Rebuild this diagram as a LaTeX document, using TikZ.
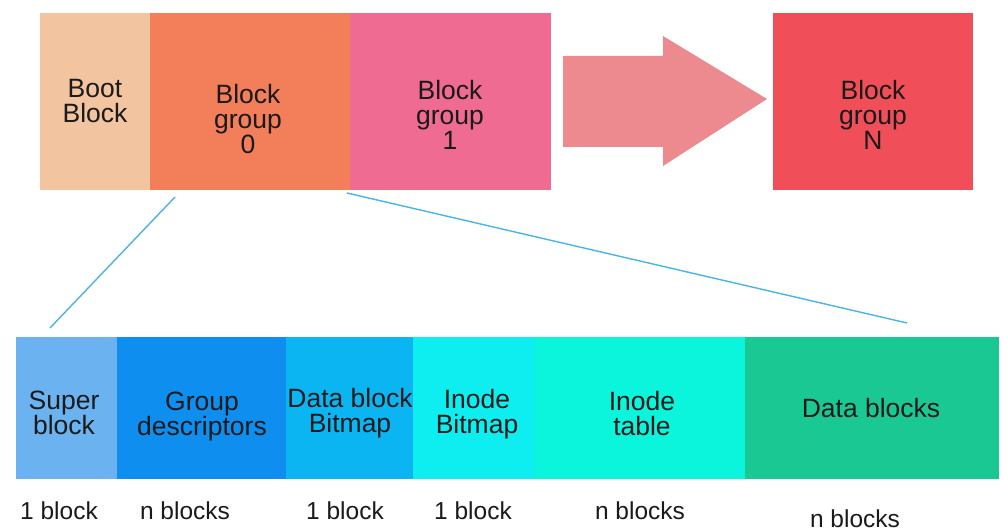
\documentclass[tikz,border=0pt]{standalone}
\usepackage{fontspec}
\setmainfont{Liberation Sans}
\definecolor{cBoot}{HTML}{F2C4A0}
\definecolor{cBG0}{HTML}{F27E5A}
\definecolor{cBG1}{HTML}{F06B92}
\definecolor{cArrow}{HTML}{EC8A90}
\definecolor{cBGN}{HTML}{F04F5A}
\definecolor{cSuper}{HTML}{6BB3F0}
\definecolor{cGD}{HTML}{0E8FF0}
\definecolor{cDBB}{HTML}{0BB5F2}
\definecolor{cIB}{HTML}{0EEEF0}
\definecolor{cIT}{HTML}{0BF5DC}
\definecolor{cDB}{HTML}{1AC893}
\definecolor{cLine}{HTML}{4AB4E4}
\definecolor{cText}{HTML}{1A1A1A}
\tikzset{
  blk/.style={rectangle, draw=none, inner sep=0pt, anchor=north west},
  lbl/.style={font=\fontsize{26.5}{25}\selectfont, text=cText, align=center, inner sep=0pt},
  cnt/.style={font=\fontsize{24.5}{25}\selectfont, text=cText, inner sep=0pt},
  zoomline/.style={draw=cLine, line width=1.4pt}
}
\begin{document}
\begin{tikzpicture}[x=1pt,y=-1pt]
\useasboundingbox[fill=white] (0,0) rectangle (1007,532);
% top row
\node[blk, fill=cBoot, minimum width=110pt, minimum height=177pt] (boot) at (40,13) {};
\node[blk, fill=cBG0, minimum width=200pt, minimum height=177pt] (bg0) at (150,13) {};
\node[blk, fill=cBG1, minimum width=201pt, minimum height=177pt] (bg1) at (350,13) {};
\node[blk, fill=cBGN, minimum width=200pt, minimum height=177pt] (bgN) at (773,13) {};
\node[lbl] (bootT) at (95,101) {Boot\\Block};
\node[lbl] (bg0T) at (248,119) {Block\\group\\0};
\node[lbl] (bg1T) at (450,115) {Block\\group\\1};
\node[lbl] (bgNT) at (873,115) {Block\\group\\N};
% big arrow
\fill[cArrow] (563,56) -- (663,56) -- (663,36) -- (767,99) -- (663,166) -- (663,147) -- (563,147) -- cycle;
% bottom row
\node[blk, fill=cSuper, minimum width=101pt, minimum height=142pt] (sb) at (16,337) {};
\node[blk, fill=cGD, minimum width=170pt, minimum height=142pt] (gd) at (117,337) {};
\node[blk, fill=cDBB, minimum width=127pt, minimum height=142pt] (dbb) at (286,337) {};
\node[blk, fill=cIB, minimum width=123pt, minimum height=142pt] (ib) at (413,337) {};
\node[blk, fill=cIT, minimum width=210pt, minimum height=142pt] (it) at (535,337) {};
\node[blk, fill=cDB, minimum width=254pt, minimum height=142pt] (db) at (745,337) {};
\node[lbl] (sbT) at (64,413) {Super\\block};
\node[lbl] (gdT) at (202,416) {Group\\descriptors};
\node[lbl] (dbbT) at (350,413) {Data block\\Bitmap};
\node[lbl] (ibT) at (477,414) {Inode\\Bitmap};
\node[lbl] (itT) at (642,414) {Inode\\table};
\node[lbl] (dbT) at (871,408) {Data blocks};
% counts
\node[cnt] (sbC) at (59,511) {1 block};
\node[cnt] (gdC) at (185,511) {n blocks};
\node[cnt] (dbbC) at (345,511) {1 block};
\node[cnt] (ibC) at (473,511) {1 block};
\node[cnt] (itC) at (640,511) {n blocks};
\node[cnt] (dbC) at (855,519) {n blocks};
% zoom lines
\coordinate (l1a) at (175,197);
\coordinate (l1b) at (50,328);
\coordinate (l2a) at (347,193);
\coordinate (l2b) at (907,323);
\draw[zoomline] (l1a) -- (l1b);
\draw[zoomline] (l2a) -- (l2b);
\end{tikzpicture}
\end{document}
